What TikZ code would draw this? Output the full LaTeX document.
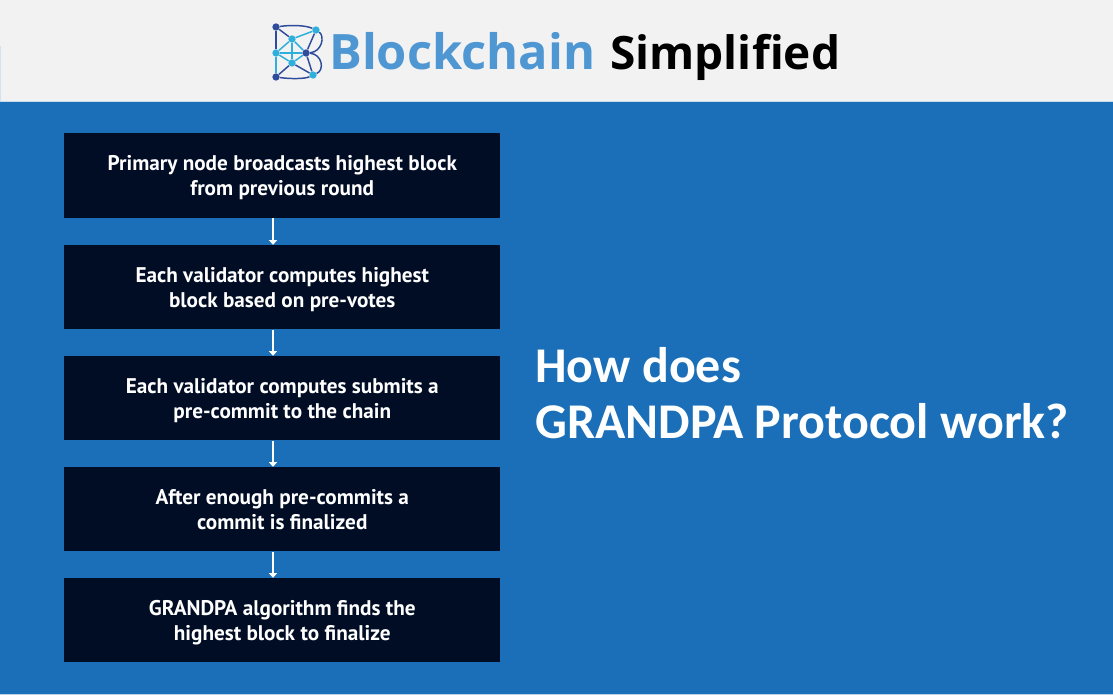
\documentclass[tikz,border=0pt]{standalone}
\usepackage{fontspec}
\usetikzlibrary{arrows.meta}
\setmainfont{PT Sans}
\newfontfamily\headfont{Open Sans}[BoldFont={Open Sans Bold}]
\newfontfamily\titlefont{Carlito}
\newcommand{\toprl}{\rule{0pt}{15pt}}
\newcommand{\botrl}{\rule[-4pt]{0pt}{4pt}}
\definecolor{bgblue}{HTML}{1A6FB8}
\definecolor{boxdark}{HTML}{010D24}
\definecolor{headgray}{HTML}{F2F2F2}
\definecolor{logoblue}{HTML}{4F97D3}
\definecolor{lnavy}{HTML}{2F4C9C}
\definecolor{lcyan}{HTML}{2FB0DC}
\tikzset{
  x=0.75pt,y=-0.75pt,
  stepbox/.style={fill=boxdark,draw=none,minimum width=327pt,minimum height=63.2pt,inner sep=0pt,
    align=center,text=white,font=\fontsize{15.9}{18.75}\selectfont\bfseries,anchor=north west},
  flow/.style={draw=white,line width=0.8pt,-{Triangle[width=6pt,length=3.5pt]}},
  lognode/.style={circle,inner sep=0pt,minimum size=5.5pt,fill=#1},
  lognode/.default=lcyan,
  ln/.style={draw=lnavy,line width=1.1pt},
  lc/.style={draw=lcyan,line width=1.1pt},
  headtext/.style={anchor=base west,inner sep=0pt},
  titletext/.style={anchor=base west,inner sep=0pt,text=white,font=\titlefont\fontsize{37.5}{42}\selectfont\bfseries},
}
\begin{document}
\begin{tikzpicture}
\useasboundingbox (0,0) rectangle (1113,695);
\fill[bgblue] (0,0) rectangle (1113,695);
\fill[headgray] (0,0) rectangle (1113,101);
\fill[white!75!bgblue] (0,101) rectangle (1113,102);
\fill[white!80!bgblue] (0,46) rectangle (1,101);
\fill[white!70!bgblue] (0,694) rectangle (1113,695);
% logo
\node[lognode=lnavy] (ltl) at (276,27) {};
\node[lognode] (ltr) at (316,30) {};
\node[lognode] (lm1) at (292,39) {};
\node[lognode] (lml) at (276,53) {};
\node[lognode=lnavy] (lc0) at (306,53) {};
\node[lognode] (lm2) at (292,63) {};
\node[lognode=lnavy] (lbl) at (276,77) {};
\node[lognode] (lbr) at (313,75) {};
\draw[ln] (ltl) -- (lml) -- (lbl);
\draw[ln] (ltl) -- (lm1);
\draw[ln] (ltl) .. controls (290,25) and (305,25) .. (ltr);
\draw[ln] (ltr) .. controls (325,36) and (322,52) .. (lc0);
\draw[ln] (lc0) .. controls (322,54) and (325,70) .. (lbr);
\draw[ln] (lbl) .. controls (290,79) and (305,79) .. (lbr);
\draw[ln] (ltr) -- (lc0);
\draw[ln] (lc0) -- (lbr);
\draw[ln] (lm2) -- (lbr);
\draw[ln] (lm2) -- (lbl);
\draw[lc] (lm1) -- (ltr);
\draw[lc] (lm1) -- (lml);
\draw[lc] (lm1) -- (lm2);
\draw[lc] (lm1) -- (lc0);
\draw[lc] (lml) -- (lc0);
\draw[lc] (lml) -- (lm2);
\draw[lc] (lm2) -- (lc0);
\draw[lc] (lbl) -- (lml);
% header text
\node[headtext,text=logoblue,font=\headfont\fontsize{36.6}{40}\selectfont\bfseries] (hblue) at (329,70) {Blockchain};
\node[headtext,text=black,font=\headfont\fontsize{34.5}{40}\selectfont\bfseries] (hblack) at (610,70) {Simplified};
% boxes
\node[stepbox] (b1) at (64,133) {\toprl Primary node broadcasts highest block\\from previous round\botrl};
\node[stepbox] (b2) at (64,244.8) {\toprl Each validator computes highest\\block based on pre-votes\botrl};
\node[stepbox] (b3) at (64,355.8) {\toprl Each validator computes submits a\\pre-commit to the chain\botrl};
\node[stepbox] (b4) at (64,466.8) {\toprl After enough pre-commits a\\commit is finalized\botrl};
\node[stepbox] (b5) at (64,577.8) {\toprl GRANDPA algorithm finds the\\highest block to finalize\botrl};
\coordinate (ax) at (273,0);
\draw[flow] (b1.south -| ax) -- (b2.north -| ax);
\draw[flow] (b2.south -| ax) -- (b3.north -| ax);
\draw[flow] (b3.south -| ax) -- (b4.north -| ax);
\draw[flow] (b4.south -| ax) -- (b5.north -| ax);
% side title
\node[titletext] (t1) at (535,382.5) {How does};
\node[titletext] (t2) at (535,438.5) {GRANDPA Protocol work?};
\end{tikzpicture}
\end{document}
